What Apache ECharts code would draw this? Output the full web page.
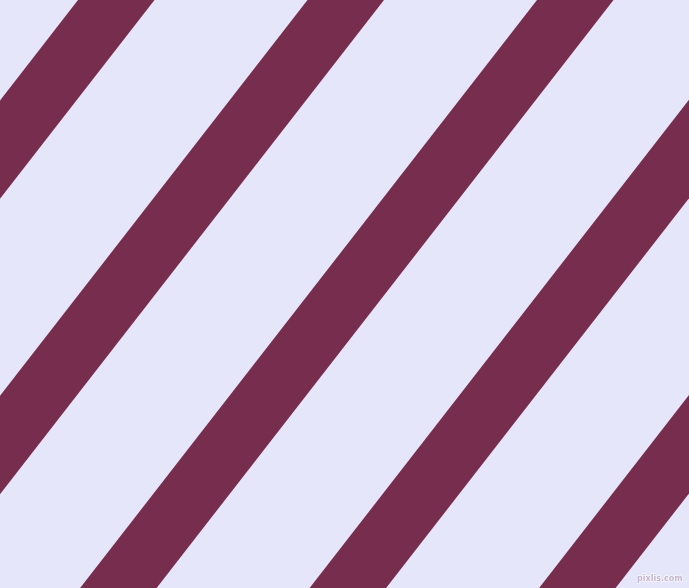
<!DOCTYPE html>
<html>
<head>
<meta charset="utf-8">
<script src="https://cdn.jsdelivr.net/npm/echarts@6/dist/echarts.min.js"></script>
<style>
html,body{margin:0;padding:0;background:#E6E6FA;}
#c{width:689px;height:588px;}
</style>
</head>
<body>
<div id="c"></div>
<script>
// Stripe data: x position where each stripe's left edge meets the top (y = 0)
const stripeStarts = [78, 307.5, 537, 766.5, 996];
const stripeWidth = 76.5;      // horizontal width of each stripe
const stripeSlope = 0.777;     // horizontal shift per unit down
const canvasW = 689, canvasH = 588;

const chart = echarts.init(document.getElementById('c'), null, {renderer: 'canvas'});
chart.setOption({
  backgroundColor: '#E6E6FA',
  animation: false,
  grid: {left: 0, right: 0, top: 0, bottom: 0},
  xAxis: {type: 'value', min: 0, max: canvasW, show: false},
  yAxis: {type: 'value', min: 0, max: canvasH, inverse: true, show: false},
  series: [{
    type: 'custom',
    clip: true,
    data: stripeStarts.map(v => [v]),
    renderItem: function (params, api) {
      const x0 = api.value(0);
      const shift = stripeSlope * canvasH;
      const pts = [
        api.coord([x0, 0]),
        api.coord([x0 + stripeWidth, 0]),
        api.coord([x0 + stripeWidth - shift, canvasH]),
        api.coord([x0 - shift, canvasH])
      ];
      return {type: 'polygon', shape: {points: pts}, style: {fill: '#772D4D'}};
    }
  }],
  graphic: [{
    type: 'text',
    right: 6,
    bottom: 5,
    style: {
      text: 'pixlis.com',
      font: 'bold 8px "DejaVu Sans"',
      fill: '#C4B6CE',
      stroke: '#ffffff',
      lineWidth: 1
    }
  }]
});
</script>
</body>
</html>
